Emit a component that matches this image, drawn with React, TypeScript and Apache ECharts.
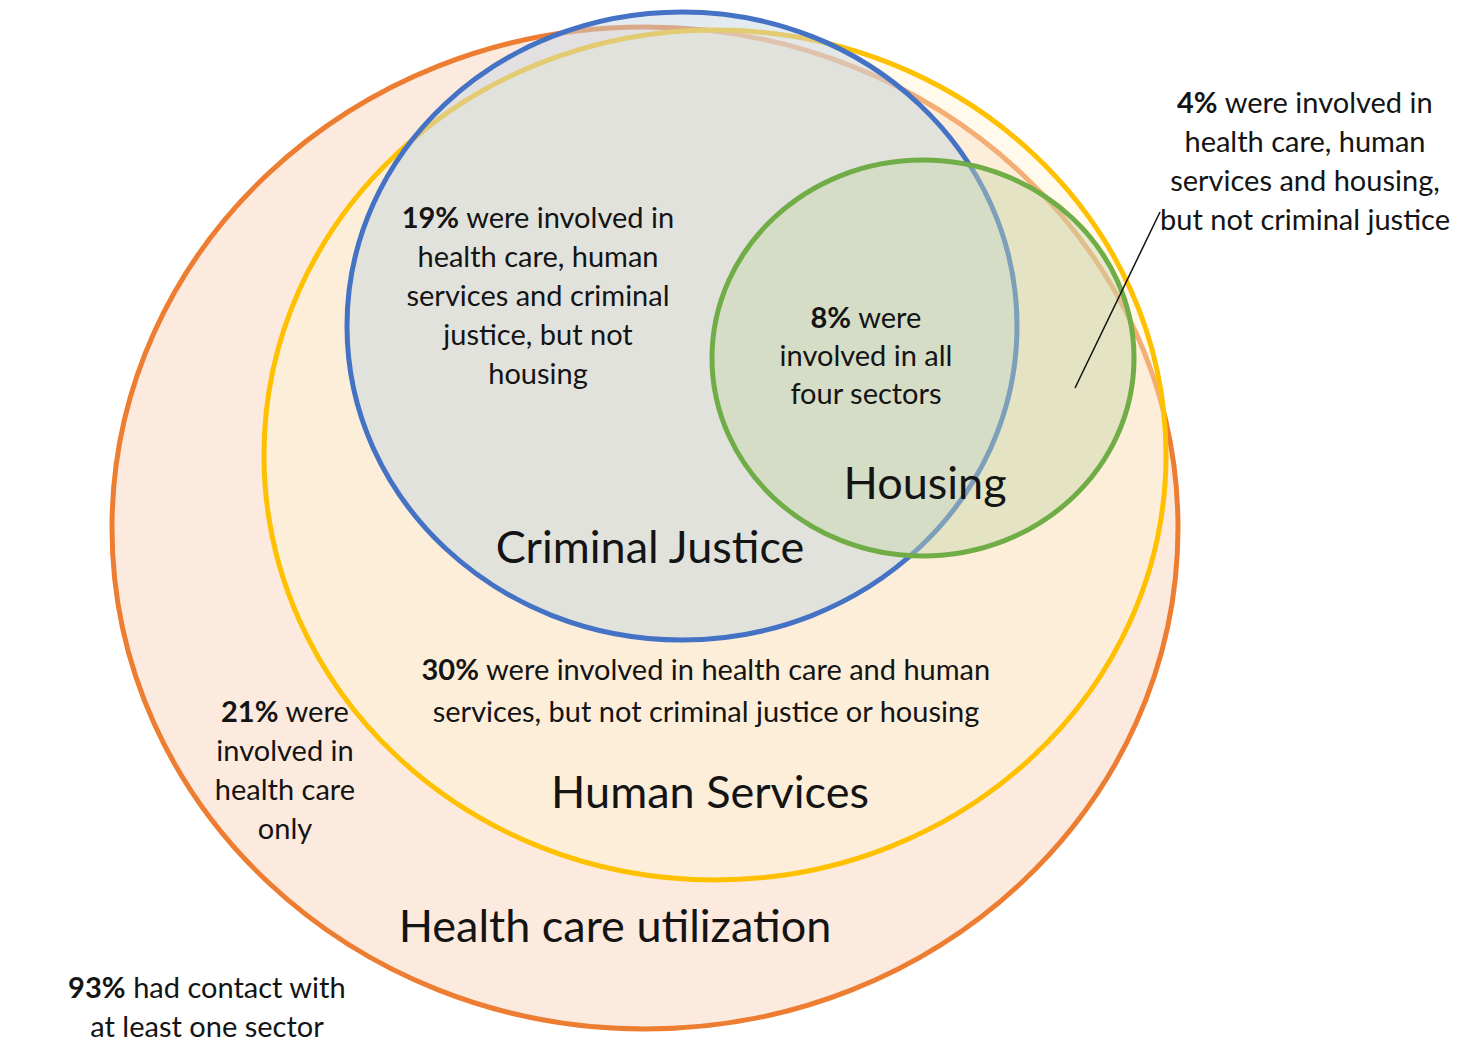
import React, { useEffect, useRef } from "react";
import * as echarts from "echarts";

const VIEW_W = 1463;
const VIEW_H = 1061;

// Sets (ellipses) in chart units
const setNames = ["Health care utilization", "Human Services", "Criminal Justice", "Housing"];
const setCenterX = [645, 715, 682, 923];
const setCenterY = [528, 455, 326, 358];
const setRadiusX = [533, 451, 335, 211];
const setRadiusY = [501, 425, 314, 198];
const setLabelX = [615, 710, 650, 925];
const setLabelY = [925, 791, 546, 482];

// Region annotations
const regionPercents = ["19%", "8%", "30%", "21%", "93%", "4%"];
const regionLines = [
  [" were involved in", "health care, human", "services and criminal", "justice, but not", "housing"],
  [" were", "involved in all", "four sectors"],
  [" were involved in health care and human", "services, but not criminal justice or housing"],
  [" were", "involved in", "health care", "only"],
  [" had contact with", "at least one sector"],
  [" were involved in", "health care, human", "services and housing,", "but not criminal justice"],
];
const regionX = [538, 866, 706, 285, 207, 1305];
const regionY = [216, 316, 668, 710, 986, 101];
const regionLineGap = [39, 38, 42, 39, 39, 39];

// Leader line for the 4% annotation
const leaderStart = [1160, 212];
const leaderEnd = [1075, 388];

const strokeColors = ["#ED7D31", "#FFC000", "#4472C4", "#70AD47"];
const fillColors = [
  "rgba(237,125,49,0.16)",
  "rgba(255,242,210,0.42)",
  "rgba(200,214,226,0.5)",
  "rgba(197,216,173,0.45)",
];

const FONT = "Lato, 'Open Sans', sans-serif";
const SMALL = 29;
const BIG = 45;
const TEXT_COLOR = "#141414";

export default function App() {
  const ref = useRef<HTMLDivElement>(null);

  useEffect(() => {
    if (!ref.current) return;
    const chart = echarts.init(ref.current, undefined, { renderer: "svg" });

    const ellipseData = setNames.map((_, i) => [setCenterX[i], setCenterY[i], setRadiusX[i], setRadiusY[i], i]);
    const setLabelData = setNames.map((_, i) => [setLabelX[i], setLabelY[i], i]);
    const regionData = regionPercents.map((_, i) => [regionX[i], regionY[i], i]);

    const option: any = {
      animation: false,
      backgroundColor: "#ffffff",
      grid: { left: 0, right: 0, top: 0, bottom: 0 },
      xAxis: { type: "value", min: 0, max: VIEW_W, show: false },
      yAxis: { type: "value", min: 0, max: VIEW_H, inverse: true, show: false },
      series: [
        {
          type: "custom",
          name: "sets",
          data: ellipseData,
          encode: { x: 0, y: 1 },
          renderItem: (params: any, api: any) => {
            const i = api.value(4);
            const c = api.coord([api.value(0), api.value(1)]);
            const s = api.size([api.value(2), api.value(3)], [api.value(0), api.value(1)]);
            return {
              type: "ellipse",
              shape: { cx: c[0], cy: c[1], rx: s[0], ry: s[1] },
              style: { fill: fillColors[i], stroke: strokeColors[i], lineWidth: 5 },
            };
          },
          z: 1,
        },
        {
          type: "custom",
          name: "leader",
          data: [[leaderStart[0], leaderStart[1], leaderEnd[0], leaderEnd[1]]],
          encode: { x: 0, y: 1 },
          renderItem: (params: any, api: any) => {
            const a = api.coord([api.value(0), api.value(1)]);
            const b = api.coord([api.value(2), api.value(3)]);
            return {
              type: "line",
              shape: { x1: a[0], y1: a[1], x2: b[0], y2: b[1] },
              style: { stroke: "#111111", lineWidth: 1.5 },
            };
          },
          z: 3,
        },
        {
          type: "custom",
          name: "setLabels",
          data: setLabelData,
          encode: { x: 0, y: 1 },
          renderItem: (params: any, api: any) => {
            const i = api.value(2);
            const c = api.coord([api.value(0), api.value(1)]);
            return {
              type: "text",
              x: c[0],
              y: c[1],
              style: {
                text: setNames[i],
                fontFamily: FONT,
                fontSize: BIG,
                fill: TEXT_COLOR,
                align: "center",
                verticalAlign: "middle",
              },
            };
          },
          z: 4,
        },
        {
          type: "custom",
          name: "regions",
          data: regionData,
          encode: { x: 0, y: 1 },
          renderItem: (params: any, api: any) => {
            const i = api.value(2);
            const c = api.coord([api.value(0), api.value(1)]);
            const lines = regionLines[i];
            const gap = regionLineGap[i];
            const children = lines.map((ln: string, k: number) => {
              if (k === 0) {
                return {
                  type: "text",
                  x: c[0],
                  y: c[1],
                  style: {
                    text: `{b|${regionPercents[i]}}{n|${ln}}`,
                    align: "center",
                    verticalAlign: "middle",
                    rich: {
                      b: { fontFamily: FONT, fontSize: SMALL, fontWeight: "bold", fill: TEXT_COLOR, align: "center" },
                      n: { fontFamily: FONT, fontSize: SMALL, fill: TEXT_COLOR, align: "center" },
                    },
                  },
                };
              }
              return {
                type: "text",
                x: c[0],
                y: c[1] + gap * k,
                style: {
                  text: ln,
                  fontFamily: FONT,
                  fontSize: SMALL,
                  fill: TEXT_COLOR,
                  align: "center",
                  verticalAlign: "middle",
                },
              };
            });
            return { type: "group", children };
          },
          z: 4,
        },
      ],
    };

    chart.setOption(option);
    return () => chart.dispose();
  }, []);

  return (
    <div
      ref={ref}
      style={{ position: "fixed", left: 0, top: 0, width: VIEW_W, height: VIEW_H, background: "#ffffff" }}
    />
  );
}
